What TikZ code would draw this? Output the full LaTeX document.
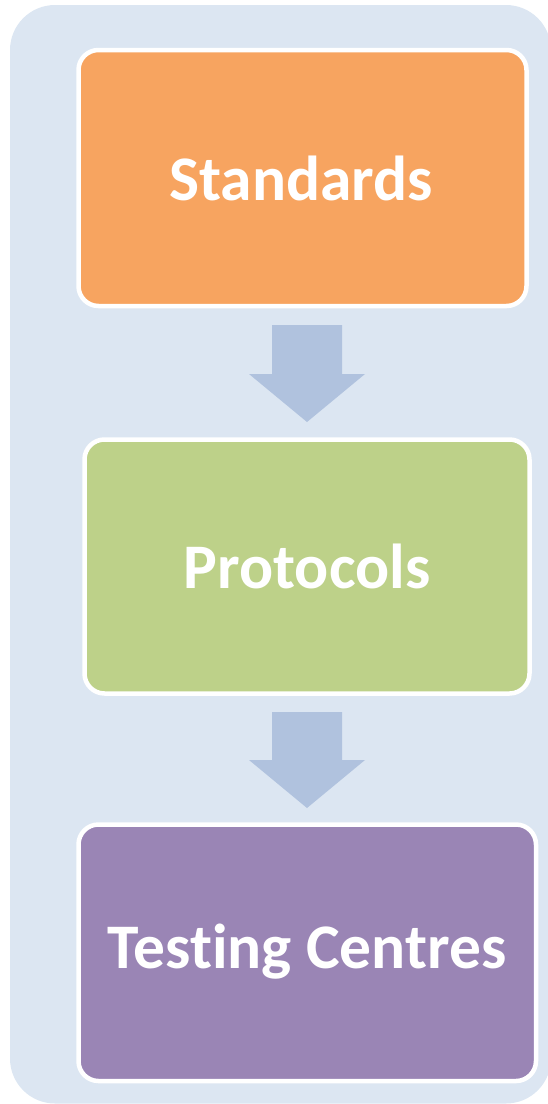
\documentclass[tikz,border=0pt]{standalone}
\usepackage{fontspec}
\setmainfont[Ligatures=NoCommon]{Carlito}
\definecolor{bgblue}{HTML}{DCE6F2}
\definecolor{arrowblue}{HTML}{B0C2DE}
\definecolor{orangebox}{HTML}{F7A460}
\definecolor{greenbox}{HTML}{BDD189}
\definecolor{purplebox}{HTML}{9A85B5}
\begin{document}
\begin{tikzpicture}[x=1pt,y=-1pt,
  stage/.style={draw=white,line width=4.5pt,rounded corners=20pt},
  stagetext/.style={text=white,font=\bfseries\fontsize{63.5}{70}\selectfont},
  downarrow/.style={fill=arrowblue,draw=none}]
\useasboundingbox (0,0) rectangle (548,1104);
\fill[bgblue,rounded corners=45pt] (10,5) rectangle (551,1103.5);
\path[stage,fill=orangebox] (78.5,50) rectangle (526.5,306);
\node (std) [stagetext] at (301,178) {Standards};
\path[stage,fill=greenbox] (84.5,439.5) rectangle (529.5,693.5);
\node (pro) [stagetext] at (307,566) {Protocols};
\path[stage,fill=purplebox] (78.5,824.5) rectangle (536,1081);
\node (tc) [stagetext] at (307,952) {Testing Centres};
\fill[downarrow] (272,325) -- (342,325) -- (342,374) -- (365,374) -- (307,422) -- (249,374) -- (272,374) -- cycle;
\fill[downarrow] (272,712) -- (342,712) -- (342,760) -- (365,760) -- (307,808) -- (249,760) -- (272,760) -- cycle;
\end{tikzpicture}
\end{document}
